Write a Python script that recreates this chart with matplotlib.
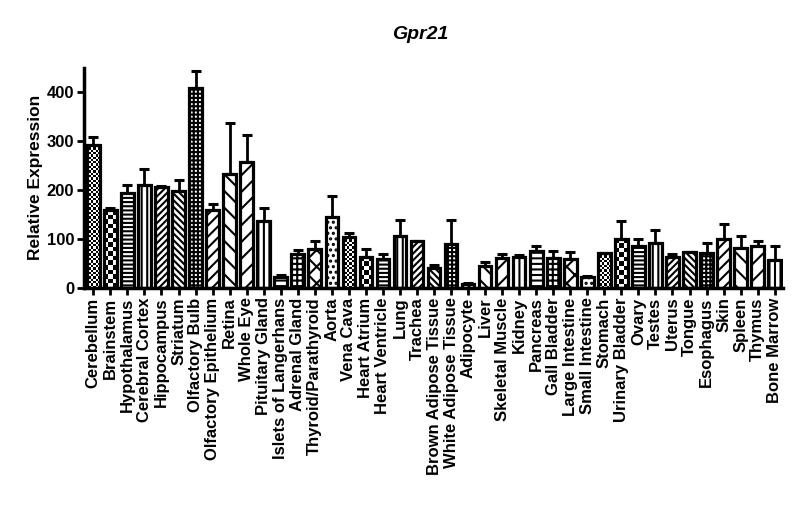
import numpy as np
import matplotlib
matplotlib.use('Agg')
from matplotlib import pyplot as plt

plt.rcParams['font.family'] = ['Liberation Sans', 'DejaVu Sans']
plt.rcParams['font.weight'] = 'bold'
plt.rcParams['hatch.linewidth'] = 1.5

tissues = ['Cerebellum', 'Brainstem', 'Hypothalamus', 'Cerebral Cortex', 'Hippocampus',
           'Striatum', 'Olfactory Bulb', 'Olfactory Epithelium', 'Retina', 'Whole Eye',
           'Pituitary Gland', 'Islets of Langerhans', 'Adrenal Gland', 'Thyroid/Parathyroid',
           'Aorta', 'Vena Cava', 'Heart Atrium', 'Heart Ventricle', 'Lung', 'Trachea',
           'Brown Adipose Tissue', 'White Adipose Tissue', 'Adipocyte', 'Liver',
           'Skeletal Muscle', 'Kidney', 'Pancreas', 'Gall Bladder', 'Large Intestine',
           'Small Intestine', 'Stomach', 'Urinary Bladder', 'Ovary', 'Testes', 'Uterus',
           'Tongue', 'Esophagus', 'Skin', 'Spleen', 'Thymus', 'Bone Marrow']
means = [292, 158, 194, 211, 205, 197, 409, 158, 233, 257, 137, 23, 70, 79, 144, 103, 63,
         58, 106, 96, 40, 89, 8, 45, 60, 62, 76, 61, 58, 22, 71, 99, 85, 91, 63, 74, 71, 99,
         81, 86, 57]
sem = [16, 5, 17, 32, 2, 23, 34, 14, 104, 55, 27, 4, 7, 17, 44, 9, 16, 11, 33, 0, 6, 49, 1,
       8, 8, 5, 10, 14, 16, 2, 1, 37, 15, 27, 6, 0, 21, 32, 25, 9, 29]
yticks = [0, 100, 200, 300, 400]

# fill patterns repeat every 15 bars, 'cf'/'cb' = fine / big checkerboard
patterns = ['cf', 'cb', '----', '|||', '/////', '\\\\\\\\\\', '++++', '///', '\\\\',
            '//', '|||', '---', '+++', 'xx', '...']

fig = plt.figure(figsize=(8, 5.28), dpi=100)
ax = fig.add_axes([0.105, 0.455, 0.874, 0.417])

x = np.arange(len(tissues))
w = 0.74
for i, (xi, m) in enumerate(zip(x, means)):
    pat = patterns[i % len(patterns)]
    if pat in ('cf', 'cb'):
        cell = 2.3 if pat == 'cf' else 4.5  # pixels
        ncol = max(1, int(round(13 / cell)))
        nrow = max(1, int(round(m * 0.49 / cell)))
        board = (np.indices((nrow, ncol)).sum(axis=0) % 2).astype(float)
        bar = ax.bar(xi, m, width=w, facecolor='none', edgecolor='black', linewidth=2.3, zorder=2)[0]
        im = ax.imshow(board, extent=(xi - w / 2, xi + w / 2, 0, m), cmap='gray',
                       interpolation='nearest', aspect='auto', zorder=1)
        im.set_clip_path(bar)
    else:
        ax.bar(xi, m, width=w, facecolor='white', edgecolor='black', linewidth=2.3,
               hatch=pat, zorder=2)

ax.errorbar(x, means, yerr=[np.zeros(len(sem)), sem], fmt='none', ecolor='black',
            elinewidth=2, capsize=3.5, capthick=2.2, zorder=1.5)

ax.set_xlim(-0.55, 40.5)
ax.set_ylim(0, 450)
ax.set_yticks(yticks)
ax.set_yticklabels([str(t) for t in yticks], fontsize=12, fontweight='bold')
ax.set_xticks(x)
ax.set_xticklabels(tissues, rotation=90, fontsize=12, fontweight='bold')
ax.tick_params(axis='both', direction='out', width=2, length=5)
ax.tick_params(axis='y', pad=2)
ax.tick_params(axis='x', pad=2)
for s in ['top', 'right']:
    ax.spines[s].set_visible(False)
for s in ['left', 'bottom']:
    ax.spines[s].set_linewidth(2.5)

ax.set_ylabel('Relative Expression', fontsize=12.5, fontweight='bold', labelpad=3)
fig.text(0.525, 0.934, 'Gpr21', fontsize=14, fontweight='bold', style='italic',
         ha='center', va='center')

fig.savefig('out.png', dpi=100)
